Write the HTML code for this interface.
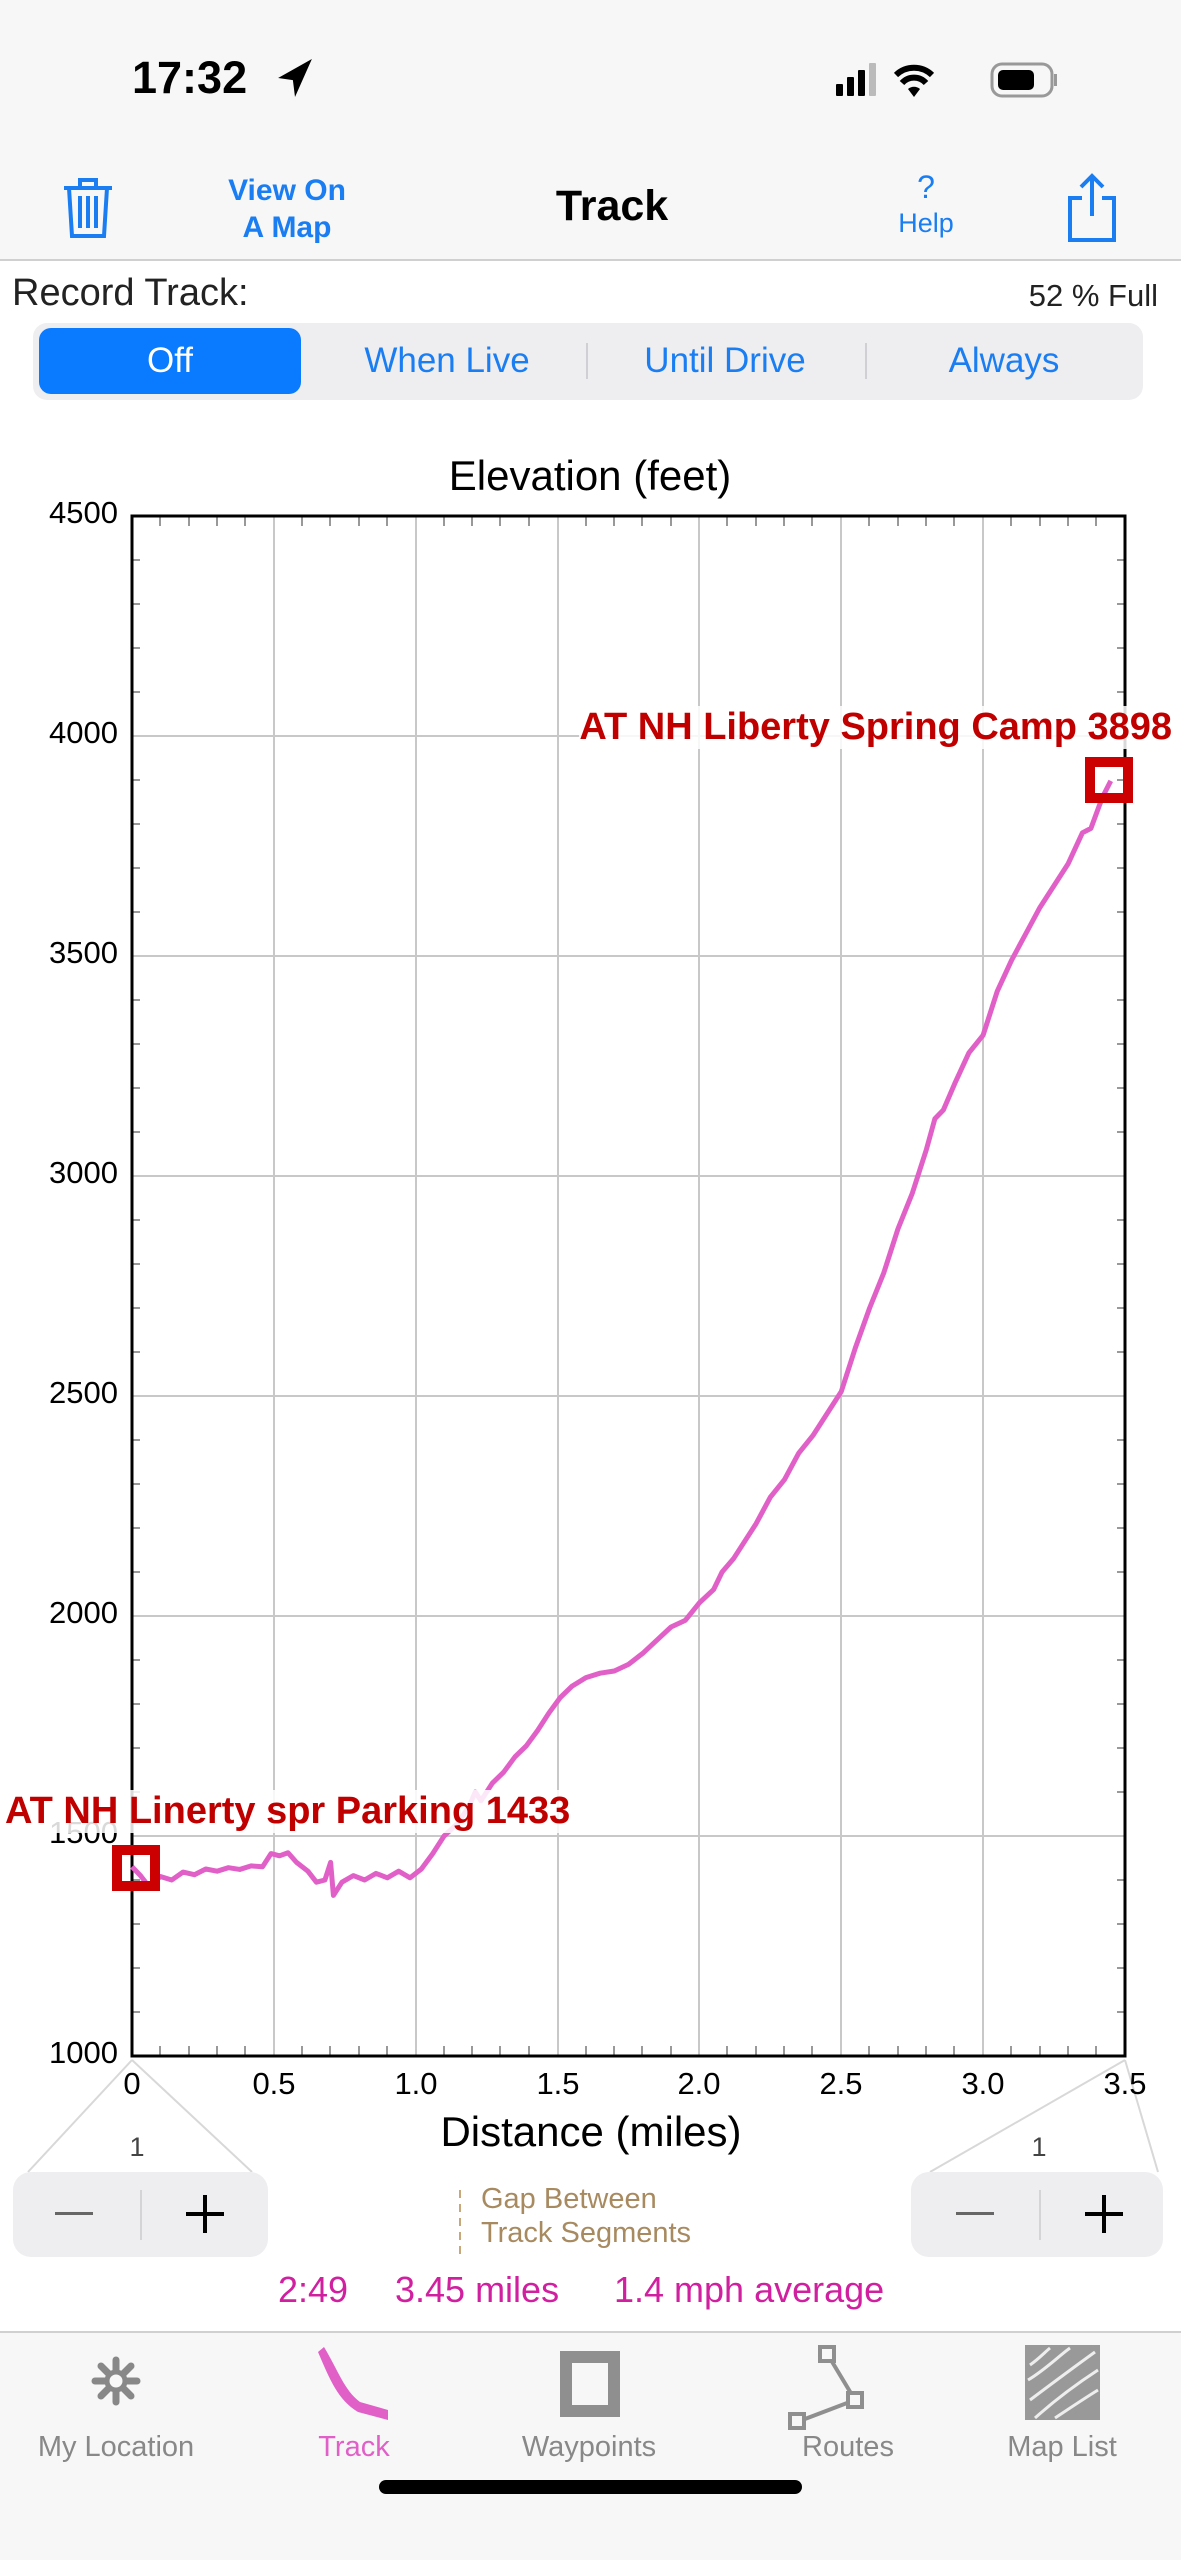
<!DOCTYPE html>
<html><head><meta charset="utf-8"><style>
*{margin:0;padding:0;box-sizing:border-box}
body{width:1181px;height:2560px;position:relative;background:#fff;font-family:"Liberation Sans",sans-serif;overflow:hidden}
.a{position:absolute;white-space:nowrap}
</style></head><body>
<div class="a" style="left:0;top:0;width:1181px;height:261px;background:#f7f7f7;border-bottom:2px solid #d0d0d0"></div>
<div class="a" style="left:132px;top:52px;font-size:45px;font-weight:bold">17:32</div>
<svg class="a" style="left:276px;top:56px" width="38" height="44" viewBox="0 0 36 40"><path d="M34 2 L2 20 L16 22 L18 38 Z" fill="#000"/></svg>
<svg class="a" style="left:836px;top:58px" width="250" height="44" viewBox="0 0 250 40">
<rect x="0" y="24" width="7" height="12" rx="1" fill="#000"/><rect x="11" y="17" width="7" height="19" rx="1" fill="#000"/><rect x="22" y="10" width="7" height="26" rx="1" fill="#000"/><rect x="33" y="3" width="7" height="33" rx="1" fill="#bbb"/>
<path d="M60 15 A26 26 0 0 1 96 15" stroke="#000" stroke-width="6" fill="none"/><path d="M66 23 A16 16 0 0 1 90 23" stroke="#000" stroke-width="6" fill="none"/><path d="M72 29 L78 37 L84 29 A9 9 0 0 0 72 29Z" fill="#000"/>
<rect x="156" y="4" width="60" height="32" rx="10" fill="none" stroke="#999" stroke-width="3"/><rect x="162" y="10" width="36" height="20" rx="5" fill="#000"/><rect x="218" y="14" width="3" height="12" fill="#999"/></svg>
<svg class="a" style="left:60px;top:176px" width="56" height="64" viewBox="0 0 56 64"><g stroke="#1a7ef2" stroke-width="4" fill="none"><path d="M4 12 H52"/><path d="M20 12 V4 H36 V12"/><path d="M9 12 L12 60 H44 L47 12"/><path d="M20 20V52M28 20V52M36 20V52"/></g></svg>
<div class="a" style="left:287px;top:172px;transform:translateX(-50%);color:#1a7ef2;font-size:30px;font-weight:bold;text-align:center;line-height:37px">View On<br>A Map</div>
<div class="a" style="left:612px;top:182px;transform:translateX(-50%);font-size:43px;font-weight:bold">Track</div>
<div class="a" style="left:926px;top:170px;transform:translateX(-50%);color:#1a7ef2;font-size:32px;text-align:center;line-height:34px">?<br><span style="font-size:27px">Help</span></div>
<svg class="a" style="left:1064px;top:172px" width="56" height="72" viewBox="0 0 56 72"><g stroke="#1a7ef2" stroke-width="4" fill="none"><path d="M28 4V44M17 15L28 4L39 15"/><path d="M18 26H6V68H50V26H38"/></g></svg>
<div class="a" style="left:12px;top:272px;font-size:38px;color:#222">Record Track:</div>
<div class="a" style="right:23px;top:278px;font-size:31px;color:#222">52 % Full</div>
<div class="a" style="left:33px;top:323px;width:1110px;height:77px;background:#eeeef0;border-radius:14px"></div>
<div class="a" style="left:39px;top:328px;width:262px;height:66px;background:#0a7aff;border-radius:12px"></div>
<div class="a" style="left:586px;top:343px;width:2px;height:36px;background:#d0d0d4"></div>
<div class="a" style="left:865px;top:343px;width:2px;height:36px;background:#d0d0d4"></div>
<div class="a" style="left:170px;top:341px;transform:translateX(-50%);font-size:35px;color:#fff">Off</div>
<div class="a" style="left:447px;top:341px;transform:translateX(-50%);font-size:35px;color:#1a7ef2">When Live</div>
<div class="a" style="left:725px;top:341px;transform:translateX(-50%);font-size:35px;color:#1a7ef2">Until Drive</div>
<div class="a" style="left:1004px;top:341px;transform:translateX(-50%);font-size:35px;color:#1a7ef2">Always</div>
<div class="a" style="left:590px;top:452px;transform:translateX(-50%);font-size:42px">Elevation (feet)</div>
<svg class="a" style="left:0;top:0" width="1181" height="2560" viewBox="0 0 1181 2560">
<g stroke="#c8c8c8" stroke-width="2">
<path d="M274 516V2056M416 516V2056M558 516V2056M699 516V2056M841 516V2056M983 516V2056"/>
<path d="M132 736H1125M132 956H1125M132 1176H1125M132 1396H1125M132 1616H1125M132 1836H1125"/>
</g>
<g stroke="#999" stroke-width="2">
<path d="M160 2056v-10M189 2056v-10M217 2056v-10M245 2056v-10M302 2056v-10M330 2056v-10M359 2056v-10M387 2056v-10M444 2056v-10M472 2056v-10M500 2056v-10M529 2056v-10M586 2056v-10M614 2056v-10M642 2056v-10M671 2056v-10M727 2056v-10M756 2056v-10M784 2056v-10M812 2056v-10M869 2056v-10M898 2056v-10M926 2056v-10M954 2056v-10M1011 2056v-10M1040 2056v-10M1068 2056v-10M1096 2056v-10"/>
<path d="M160 516v10M189 516v10M217 516v10M245 516v10M302 516v10M330 516v10M359 516v10M387 516v10M444 516v10M472 516v10M500 516v10M529 516v10M586 516v10M614 516v10M642 516v10M671 516v10M727 516v10M756 516v10M784 516v10M812 516v10M869 516v10M898 516v10M926 516v10M954 516v10M1011 516v10M1040 516v10M1068 516v10M1096 516v10"/>
<path d="M132 560h8M132 604h8M132 648h8M132 692h8M132 780h8M132 824h8M132 868h8M132 912h8M132 1000h8M132 1044h8M132 1088h8M132 1132h8M132 1220h8M132 1264h8M132 1308h8M132 1352h8M132 1440h8M132 1484h8M132 1528h8M132 1572h8M132 1660h8M132 1704h8M132 1748h8M132 1792h8M132 1880h8M132 1924h8M132 1968h8M132 2012h8"/>
<path d="M1125 560h-8M1125 604h-8M1125 648h-8M1125 692h-8M1125 780h-8M1125 824h-8M1125 868h-8M1125 912h-8M1125 1000h-8M1125 1044h-8M1125 1088h-8M1125 1132h-8M1125 1220h-8M1125 1264h-8M1125 1308h-8M1125 1352h-8M1125 1440h-8M1125 1484h-8M1125 1528h-8M1125 1572h-8M1125 1660h-8M1125 1704h-8M1125 1748h-8M1125 1792h-8M1125 1880h-8M1125 1924h-8M1125 1968h-8M1125 2012h-8"/>
</g>
<rect x="132" y="516" width="993" height="1540" fill="none" stroke="#000" stroke-width="3"/>
<g transform="translate(132,2056) scale(283.7,-0.44)">
<path vector-effect="non-scaling-stroke" fill="none" stroke="#e060c8" stroke-width="5" stroke-linejoin="round" d="M0 430 L0.03 410 L0.06 385 L0.1 408 L0.14 400 L0.18 418 L0.22 412 L0.26 425 L0.3 420 L0.34 428 L0.38 424 L0.42 432 L0.46 430 L0.49 460 L0.52 455 L0.55 462 L0.58 440 L0.62 420 L0.65 395 L0.68 400 L0.7 440 L0.71 365 L0.74 395 L0.78 410 L0.82 400 L0.86 415 L0.9 405 L0.94 420 L0.98 405 L1.02 425 L1.06 460 L1.1 500 L1.15 530 L1.19 570 L1.21 600 L1.23 580 L1.27 620 L1.31 645 L1.35 680 L1.39 705 L1.43 740 L1.47 780 L1.51 815 L1.55 840 L1.6 860 L1.65 870 L1.7 875 L1.75 890 L1.8 915 L1.85 945 L1.9 975 L1.95 990 L2.0 1030 L2.05 1060 L2.08 1100 L2.12 1130 L2.16 1170 L2.2 1210 L2.25 1270 L2.3 1310 L2.35 1370 L2.4 1410 L2.45 1460 L2.5 1510 L2.55 1610 L2.6 1700 L2.65 1780 L2.7 1880 L2.75 1960 L2.8 2060 L2.83 2130 L2.86 2150 L2.9 2210 L2.95 2280 L3.0 2320 L3.05 2420 L3.1 2490 L3.15 2550 L3.2 2610 L3.25 2660 L3.3 2710 L3.35 2780 L3.38 2790 L3.42 2860 L3.45 2898"/>
</g>
<rect x="117" y="1850" width="38" height="36" fill="none" stroke="#cc0000" stroke-width="10"/>
<rect x="1090" y="762" width="38" height="36" fill="none" stroke="#cc0000" stroke-width="10"/>
<g stroke="#d8d8d8" stroke-width="2"><path d="M132 2060L28 2172M132 2060L252 2172M1125 2060L930 2172M1125 2060L1158 2172"/></g>
<path d="M460 2190V2260" stroke="#c8a878" stroke-width="2" stroke-dasharray="8 6"/>
</svg>
<div class="a" style="right:1063px;top:495px;font-size:31px">4500</div>
<div class="a" style="right:1063px;top:715px;font-size:31px">4000</div>
<div class="a" style="right:1063px;top:935px;font-size:31px">3500</div>
<div class="a" style="right:1063px;top:1155px;font-size:31px">3000</div>
<div class="a" style="right:1063px;top:1375px;font-size:31px">2500</div>
<div class="a" style="right:1063px;top:1595px;font-size:31px">2000</div>
<div class="a" style="right:1063px;top:1815px;font-size:31px">1500</div>
<div class="a" style="right:1063px;top:2035px;font-size:31px">1000</div>
<div class="a" style="left:132px;top:2066px;transform:translateX(-50%);font-size:31px">0</div>
<div class="a" style="left:274px;top:2066px;transform:translateX(-50%);font-size:31px">0.5</div>
<div class="a" style="left:416px;top:2066px;transform:translateX(-50%);font-size:31px">1.0</div>
<div class="a" style="left:558px;top:2066px;transform:translateX(-50%);font-size:31px">1.5</div>
<div class="a" style="left:699px;top:2066px;transform:translateX(-50%);font-size:31px">2.0</div>
<div class="a" style="left:841px;top:2066px;transform:translateX(-50%);font-size:31px">2.5</div>
<div class="a" style="left:983px;top:2066px;transform:translateX(-50%);font-size:31px">3.0</div>
<div class="a" style="left:1125px;top:2066px;transform:translateX(-50%);font-size:31px">3.5</div>
<div class="a" style="left:591px;top:2108px;transform:translateX(-50%);font-size:42px">Distance (miles)</div>
<div class="a" style="right:9px;top:706px;font-size:38px;font-weight:bold;color:#c00000;background:rgba(255,255,255,0.85)">AT NH Liberty Spring Camp 3898</div>
<div class="a" style="left:5px;top:1790px;font-size:38px;font-weight:bold;color:#c00000;background:rgba(255,255,255,0.85)">AT NH Linerty spr Parking 1433</div>
<div class="a" style="left:137px;top:2132px;transform:translateX(-50%);font-size:27px;color:#444">1</div>
<div class="a" style="left:1039px;top:2132px;transform:translateX(-50%);font-size:27px;color:#444">1</div>
<div class="a" style="left:13px;top:2172px;width:255px;height:85px;background:#eeeef0;border-radius:18px"></div>
<div class="a" style="left:140px;top:2190px;width:2px;height:50px;background:#d4d4d6"></div>
<div class="a" style="left:55px;top:2212px;width:38px;height:3px;background:#666"></div>
<div class="a" style="left:186px;top:2212px;width:38px;height:4px;background:#000"></div><div class="a" style="left:203px;top:2195px;width:4px;height:38px;background:#000"></div>
<div class="a" style="left:911px;top:2172px;width:252px;height:85px;background:#eeeef0;border-radius:18px"></div>
<div class="a" style="left:1039px;top:2190px;width:2px;height:50px;background:#d4d4d6"></div>
<div class="a" style="left:956px;top:2212px;width:38px;height:3px;background:#666"></div>
<div class="a" style="left:1085px;top:2212px;width:38px;height:4px;background:#000"></div><div class="a" style="left:1102px;top:2195px;width:4px;height:38px;background:#000"></div>
<div class="a" style="left:481px;top:2182px;font-size:29px;color:#a88a60;line-height:34px">Gap Between<br>Track Segments</div>
<div class="a" style="left:278px;top:2269px;font-size:36px;color:#d020a0">2:49</div>
<div class="a" style="left:395px;top:2269px;font-size:36px;color:#d020a0">3.45 miles</div>
<div class="a" style="left:614px;top:2269px;font-size:36px;color:#d020a0">1.4 mph average</div>
<div class="a" style="left:0;top:2331px;width:1181px;height:229px;background:#f7f7f7;border-top:2px solid #d0d0d0"></div>
<svg class="a" style="left:0;top:2340px" width="1181" height="90" viewBox="0 0 1181 90">
<g stroke="#888" stroke-width="7" stroke-linecap="round"><path d="M116 20V62M95 41H137M101 26L131 56M131 26L101 56"/></g>
<circle cx="116" cy="41" r="9" fill="#f7f7f7" stroke="#888" stroke-width="5"/>
<path d="M324 7 C338 30 344 50 360 62 L388 70 L388 80 L358 72 C338 60 330 40 318 12Z" fill="#e060c8"/>
<rect x="566" y="17" width="48" height="54" fill="none" stroke="#8f8f8f" stroke-width="12"/>
<g stroke="#8f8f8f" stroke-width="4" fill="none"><path d="M828 15L855 60L797 82"/><rect x="820" y="7" width="14" height="14" fill="#f7f7f7"/><rect x="848" y="53" width="14" height="14" fill="#f7f7f7"/><rect x="790" y="74" width="14" height="14" fill="#f7f7f7"/></g>
<rect x="1025" y="5" width="75" height="75" fill="#999"/>
<g stroke="#eee" stroke-width="3" fill="none"><path d="M1028 40C1045 30 1060 15 1070 8M1030 60C1050 45 1070 30 1095 12M1035 78C1055 60 1075 45 1098 30M1055 78C1070 68 1085 58 1098 50M1030 25C1040 18 1045 12 1050 8"/></g>
</svg>
<div class="a" style="left:116px;top:2431px;transform:translateX(-50%);font-size:29px;color:#888">My Location</div>
<div class="a" style="left:354px;top:2431px;transform:translateX(-50%);font-size:29px;color:#e060c8">Track</div>
<div class="a" style="left:589px;top:2431px;transform:translateX(-50%);font-size:29px;color:#888">Waypoints</div>
<div class="a" style="left:848px;top:2431px;transform:translateX(-50%);font-size:29px;color:#888">Routes</div>
<div class="a" style="left:1062px;top:2431px;transform:translateX(-50%);font-size:29px;color:#888">Map List</div>
<div class="a" style="left:379px;top:2480px;width:423px;height:14px;background:#000;border-radius:7px"></div>
</body></html>
